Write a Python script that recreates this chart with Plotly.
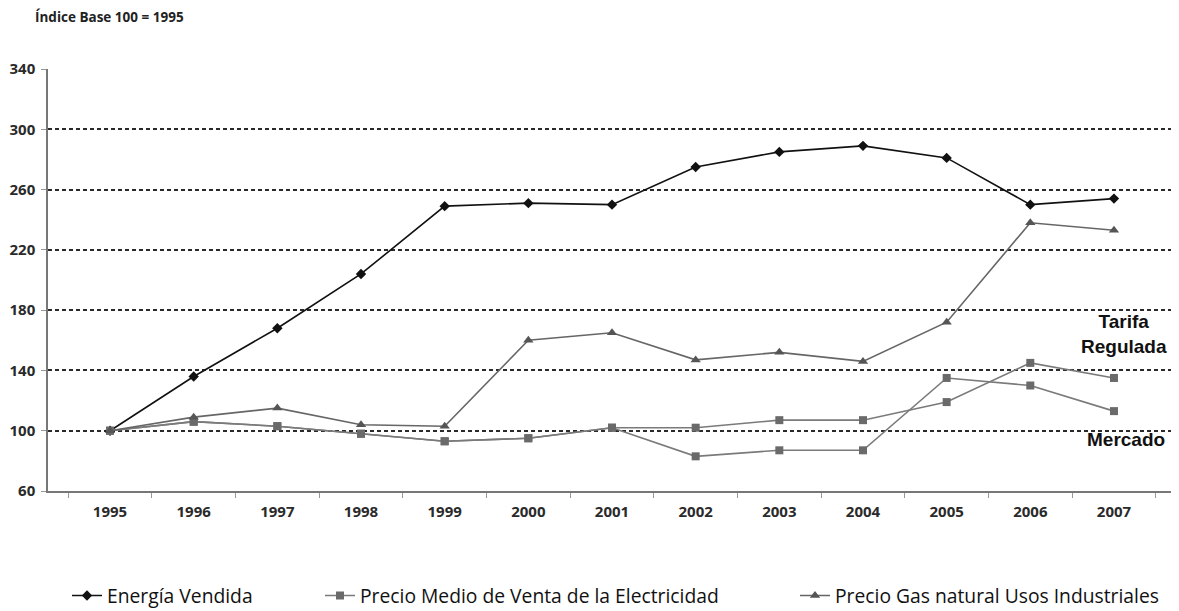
import plotly.graph_objects as go

years = ["1995", "1996", "1997", "1998", "1999", "2000", "2001",
         "2002", "2003", "2004", "2005", "2006", "2007"]
energia_vendida = [100, 136, 168, 204, 249, 251, 250, 275, 285, 289, 281, 250, 254]
precio_tarifa_regulada = [100, 106, 103, 98, 93, 95, 102, 102, 107, 107, 119, 145, 135]
precio_mercado = [100, 106, 103, 98, 93, 95, 102, 83, 87, 87, 135, 130, 113]
precio_gas = [100, 109, 115, 104, 103, 160, 165, 147, 152, 146, 172, 238, 233]
y_ticks = [60, 100, 140, 180, 220, 260, 300, 340]

# page geometry (the html body adds an 8px offset)
OFF = 8
PL, PR, PT, PB = 48, 1176, 69, 491
W, H = 1179 - OFF, 611 - OFF

def px(xp):
    return (xp - PL) / (PR - PL)

def py(yp):
    return (PB - yp) / (PB - PT)

LEG_FONT = dict(family="Open Sans, DejaVu Sans, sans-serif", size=19.3, color="#111")

fig = go.Figure()
fig.add_trace(go.Scatter(
    x=years, y=energia_vendida, mode="lines+markers", name="Energía Vendida",
    line=dict(color="#111111", width=1.6),
    marker=dict(symbol="diamond", size=8, color="#111111"),
    legend="legend"))
fig.add_trace(go.Scatter(
    x=years, y=precio_tarifa_regulada, mode="lines+markers",
    name="Precio Medio de Venta de la Electricidad",
    line=dict(color="#7a7a7a", width=1.6),
    marker=dict(symbol="square", size=8, color="#6a6a6a"),
    legend="legend2"))
fig.add_trace(go.Scatter(
    x=years, y=precio_mercado, mode="lines+markers",
    name="Precio Medio de Venta de la Electricidad (Mercado)",
    line=dict(color="#7a7a7a", width=1.6),
    marker=dict(symbol="square", size=8, color="#6a6a6a"),
    showlegend=False))
fig.add_trace(go.Scatter(
    x=years, y=precio_gas, mode="lines+markers",
    name="Precio Gas natural Usos Industriales",
    line=dict(color="#666666", width=1.6),
    marker=dict(symbol="triangle-up", size=9, color="#555555"),
    legend="legend3"))

tickfont = dict(family="Open Sans, DejaVu Sans, sans-serif", size=15,
                color="#2a2a2a", weight="bold")

leg_y = py(596)
fig.update_layout(
    width=W, height=H,
    margin=dict(l=PL - OFF, r=W - (PR - OFF), t=PT - OFF, b=H - (PB - OFF),
                autoexpand=False),
    paper_bgcolor="white", plot_bgcolor="white",
    title=dict(text="Índice Base 100 = 1995", xref="container", yref="container",
               x=(35 - OFF) / W, xanchor="left", y=1 - (17 - OFF) / H, yanchor="middle",
               font=dict(family="Open Sans, DejaVu Sans, sans-serif",
                         size=13.5, color="#222", weight="bold")),
    xaxis=dict(type="category", showline=True, linecolor="#777", linewidth=1.5,
               showgrid=False, ticks="outside", tickson="boundaries", ticklen=5,
               tickcolor="#999", tickfont=tickfont, ticklabelstandoff=6,
               zeroline=False),
    yaxis=dict(range=[60, 340], tickvals=y_ticks, showline=True, mirror=True,
               linecolor="#777", linewidth=1.5, ticks="outside", ticklen=5,
               tickcolor="#999", tickfont=tickfont, ticklabelstandoff=3,
               showgrid=True, gridcolor="#2a2a2a", gridwidth=1.6, griddash="4px,3px",
               zeroline=False),
    legend=dict(x=px(67), y=leg_y, xanchor="left", yanchor="middle",
                font=LEG_FONT, bgcolor="rgba(0,0,0,0)"),
    legend2=dict(x=px(320), y=leg_y, xanchor="left", yanchor="middle",
                 font=LEG_FONT, bgcolor="rgba(0,0,0,0)"),
    legend3=dict(x=px(795), y=leg_y, xanchor="left", yanchor="middle",
                 font=LEG_FONT, bgcolor="rgba(0,0,0,0)"),
    annotations=[
        dict(text="Tarifa<br>Regulada", xref="paper", yref="paper",
             x=px(1124), y=py(334), xanchor="center", yanchor="middle",
             showarrow=False,
             font=dict(family="Liberation Sans, Arial, sans-serif", size=19,
                       color="#111", weight="bold"), align="center"),
        dict(text="Mercado", xref="paper", yref="paper",
             x=px(1126), y=py(439), xanchor="center", yanchor="middle",
             showarrow=False,
             font=dict(family="Liberation Sans, Arial, sans-serif", size=19,
                       color="#111", weight="bold")),
    ],
)

fig.write_html("out.html")
